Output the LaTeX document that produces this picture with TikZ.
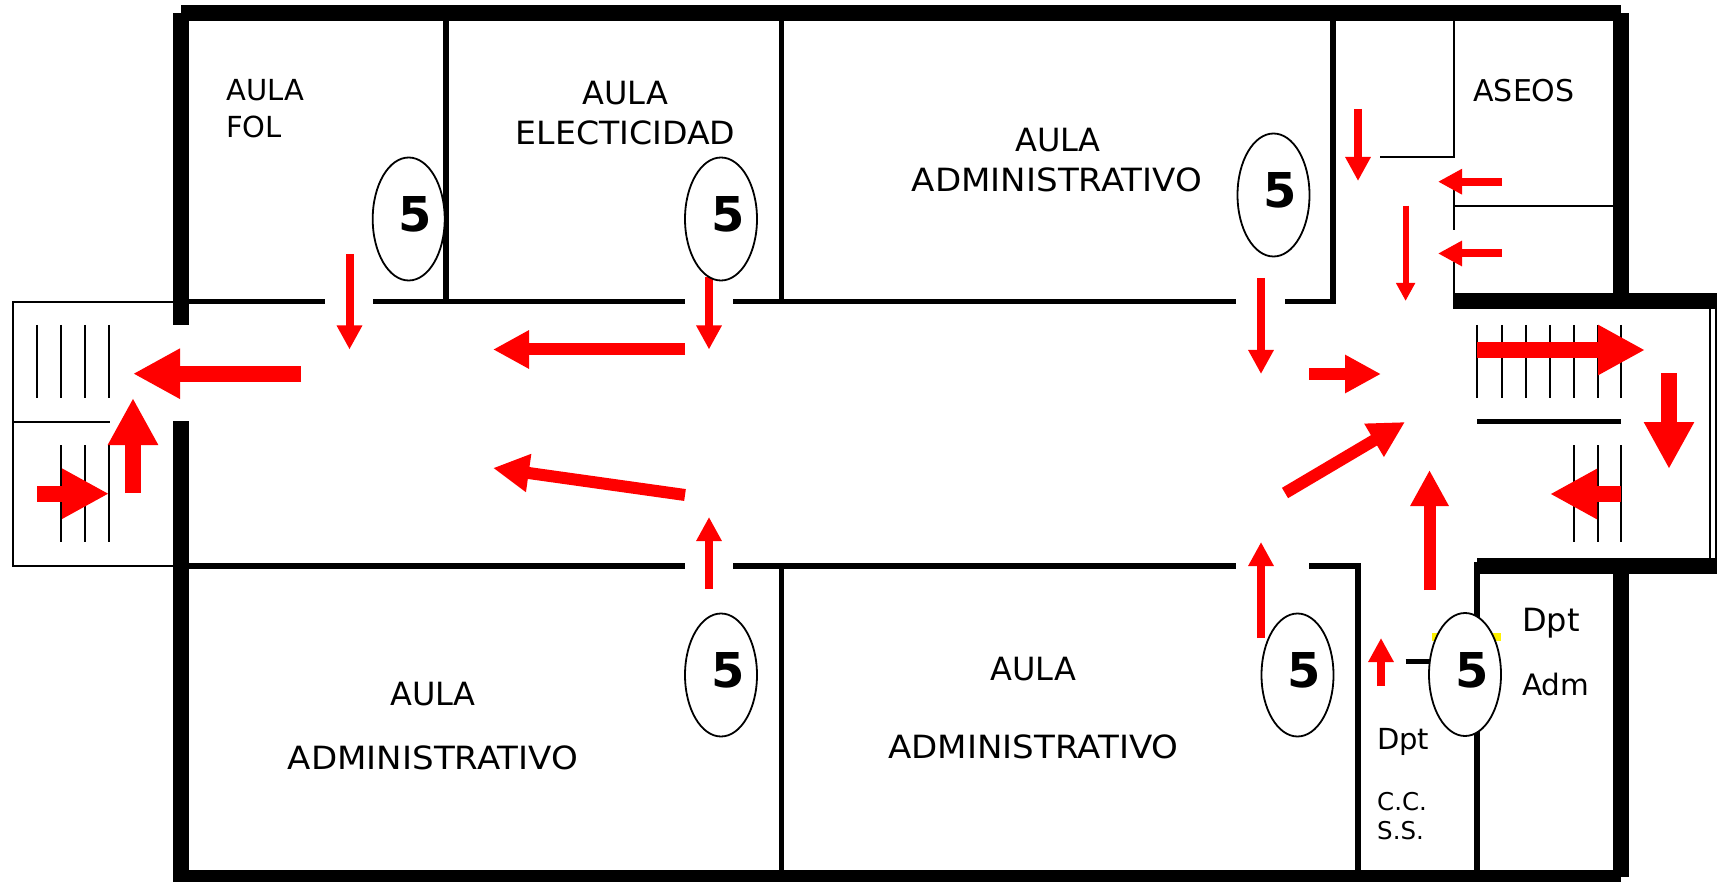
\documentclass[tikz,border=0pt]{standalone}
\usepackage{fontspec}
\setmainfont{DejaVu Sans}
\newfontfamily\widea[FakeStretch=1.065]{DejaVu Sans}
\newfontfamily\wideb[FakeStretch=1.036]{DejaVu Sans}
\usetikzlibrary{arrows.meta,shapes.geometric}
\tikzset{
  thick wall/.style={line width=16pt,black},
  wall/.style={line width=5.5pt,black},
  thin wall/.style={line width=2pt,black},
  tread/.style={line width=2pt,black},
  big/.style={red,line width=16pt,-{Triangle[length=47pt,width=47pt]}},
  mid/.style={red,line width=12pt,-{Triangle[length=36pt,width=36pt]}},
  small/.style={red,line width=8pt,-{Triangle[length=24pt,width=24pt]}},
  tiny/.style={red,line width=6pt,-{Triangle[length=18pt,width=18pt]}},
  capacity/.style={ellipse,draw=black,line width=1.8pt,fill=white,minimum width=72pt,minimum height=123pt,inner sep=0pt},
  num/.style={font=\fontsize{48}{48}\selectfont\bfseries,inner sep=0pt,anchor=center},
  lab/.style={inner sep=0pt,anchor=base,font=\fontsize{32}{32}\selectfont},
  labl/.style={inner sep=0pt,anchor=base west},
}
\begin{document}
\begin{tikzpicture}[x=1pt,y=-1pt]
\useasboundingbox (0,0) rectangle (1718,882);
\fill[white] (0,0) rectangle (1718,882);
\begin{scope}
\clip (0,0) rectangle (1718,882);
% outer walls
\draw[thick wall] (181,13.5) -- (1621,13.5);
\draw[thick wall] (181,13.5) -- (181,325);
\draw[thick wall] (181,421) -- (181,882);
\draw[thick wall,line width=14pt] (181,877) -- (1621,877);
\draw[thick wall] (1621,13.5) -- (1621,301);
\draw[thick wall] (1621,566) -- (1621,877);
\draw[thick wall] (1453,301.5) -- (1717,301.5);
\draw[thick wall] (1477,566) -- (1717,566);
\draw[thin wall] (1710,301) -- (1710,566);
\draw[thin wall] (1716,301) -- (1716,566);
% corridor walls
\draw[wall] (189,301.5) -- (325,301.5);
\draw[wall] (373,301.5) -- (685,301.5);
\draw[wall] (733,301.5) -- (1236,301.5);
\draw[wall] (1285,301.5) -- (1336,301.5);
\draw[wall] (189,566) -- (685,566);
\draw[wall] (733,566) -- (1236,566);
\draw[wall] (1309,566) -- (1361,566);
% partitions
\draw[wall] (446,21) -- (446,301);
\draw[wall] (781.7,21) -- (781.7,301);
\draw[wall] (1333,21) -- (1333,301);
\draw[wall] (781.7,566) -- (781.7,870);
\draw[wall] (1358,566) -- (1358,870);
\draw[wall] (1477,562) -- (1477,870);
% aseos
\draw[thin wall] (1454,21) -- (1454,157) -- (1380,157);
\draw[thin wall] (1454,190) -- (1454,230);
\draw[thin wall] (1454,262) -- (1454,301);
\draw[thin wall] (1454,206) -- (1614,206);
% right stairs
\foreach \x in {1477,1502,1526,1550,1574,1598,1621} \draw[tread] (\x,325) -- (\x,398);
\draw[wall] (1477,421.7) -- (1621,421.7);
\foreach \x in {1574,1598,1621} \draw[tread] (\x,445) -- (\x,542);
% left stairs
\draw[thin wall] (173,302) -- (13,302) -- (13,566) -- (173,566);
\draw[thin wall] (13,421.7) -- (110,421.7);
\foreach \x in {37,61,85,109} \draw[tread] (\x,325) -- (\x,398);
\foreach \x in {61,85,109} \draw[tread] (\x,445) -- (\x,542);
% dash, yellow mark
\draw[wall] (1405.6,661.7) -- (1432,661.7);
\draw[yellow,line width=8pt] (1432,637) -- (1501,637);
% arrows
\coordinate (a1s) at (301,373.7); \coordinate (a1e) at (133,373.7);
\draw[big] (a1s) -- (a1e);
\coordinate (a2s) at (133,493); \coordinate (a2e) at (133,398);
\draw[big] (a2s) -- (a2e);
\coordinate (a3s) at (37,493.7); \coordinate (a3e) at (109,493.7);
\draw[big] (a3s) -- (a3e);
\coordinate (a4s) at (1477,350); \coordinate (a4e) at (1645,350);
\draw[big] (a4s) -- (a4e);
\coordinate (a5s) at (1669,373); \coordinate (a5e) at (1669,469);
\draw[big] (a5s) -- (a5e);
\coordinate (a6s) at (1621,494); \coordinate (a6e) at (1550,494);
\draw[big] (a6s) -- (a6e);
\coordinate (b1s) at (1429.5,590); \coordinate (b1e) at (1429.5,470);
\draw[mid] (b1s) -- (b1e);
\coordinate (b2s) at (1285,493); \coordinate (b2e) at (1405,422);
\draw[mid] (b2s) -- (b2e);
\coordinate (b3s) at (1309,374); \coordinate (b3e) at (1381,374);
\draw[mid] (b3s) -- (b3e);
\coordinate (b4s) at (685,349.5); \coordinate (b4e) at (493,349.5);
\draw[mid] (b4s) -- (b4e);
\coordinate (b5s) at (685,495); \coordinate (b5e) at (493,468);
\draw[mid] (b5s) -- (b5e);
\coordinate (c1s) at (349.5,254); \coordinate (c1e) at (349.5,349.5);
\draw[small] (c1s) -- (c1e);
\coordinate (c2s) at (709,277); \coordinate (c2e) at (709,349.5);
\draw[small] (c2s) -- (c2e);
\coordinate (c3s) at (1261,278); \coordinate (c3e) at (1261,374);
\draw[small] (c3s) -- (c3e);
\coordinate (c4s) at (709,589); \coordinate (c4e) at (709,517);
\draw[small] (c4s) -- (c4e);
\coordinate (c5s) at (1261,638); \coordinate (c5e) at (1261,542);
\draw[small] (c5s) -- (c5e);
\coordinate (c6s) at (1358,109); \coordinate (c6e) at (1358,181);
\draw[small] (c6s) -- (c6e);
\coordinate (c7s) at (1502,181.7); \coordinate (c7e) at (1438,181.7);
\draw[small] (c7s) -- (c7e);
\coordinate (c8s) at (1502,253.5); \coordinate (c8e) at (1438,253.5);
\draw[small] (c8s) -- (c8e);
\coordinate (c9s) at (1381,686); \coordinate (c9e) at (1381,638);
\draw[small] (c9s) -- (c9e);
\coordinate (d1s) at (1405.6,205.7); \coordinate (d1e) at (1405.6,301);
\draw[tiny] (d1s) -- (d1e);
% occupancy ellipses
\node[capacity] (e1) at (408.7,219) {};
\node[capacity] (e2) at (721,219) {};
\node[capacity] (e3) at (1273.5,195) {};
\node[capacity] (e4) at (721,675) {};
\node[capacity] (e5) at (1297.5,675) {};
\node[capacity] (e6) at (1465,674.5) {};
\node[num] (n1) at (415,214.5) {5};
\node[num] (n2) at (728,214.5) {5};
\node[num] (n3) at (1280,190.5) {5};
\node[num] (n4) at (728,670) {5};
\node[num] (n5) at (1304,670) {5};
\node[num] (n6) at (1472,670) {5};
% labels
\node[labl,font=\fontsize{29}{29}\selectfont] (t1) at (226,101) {AULA};
\node[labl,font=\fontsize{29}{29}\selectfont] (t2) at (226,138) {FOL};
\node[lab] (t3) at (625.5,105) {AULA};
\node[lab,font=\fontsize{32}{32}\selectfont\wideb] (t4) at (625.5,145) {ELECTICIDAD};
\node[lab] (t5) at (1058,152) {AULA};
\node[lab,font=\fontsize{32}{32}\selectfont\widea] (t6) at (1057,192) {ADMINISTRATIVO};
\node[lab,font=\fontsize{30}{30}\selectfont] (t7) at (1524,102) {ASEOS};
\node[lab] (t8) at (433,705) {AULA};
\node[lab,font=\fontsize{32}{32}\selectfont\widea] (t9) at (433,769) {ADMINISTRATIVO};
\node[lab] (t10) at (1033.5,680) {AULA};
\node[lab,font=\fontsize{32}{32}\selectfont\widea] (t11) at (1033.5,758) {ADMINISTRATIVO};
\node[labl,font=\fontsize{32}{32}\selectfont] (t12) at (1522,631) {Dpt};
\node[labl,font=\fontsize{29.5}{29.5}\selectfont] (t13) at (1522,695) {Adm};
\node[labl,font=\fontsize{29}{29}\selectfont] (t14) at (1377,749) {Dpt};
\node[labl,font=\fontsize{24.5}{24.5}\selectfont] (t15) at (1377,810) {C.C.};
\node[labl,font=\fontsize{24.5}{24.5}\selectfont] (t16) at (1377,839) {S.S.};
\end{scope}
\end{tikzpicture}
\end{document}
